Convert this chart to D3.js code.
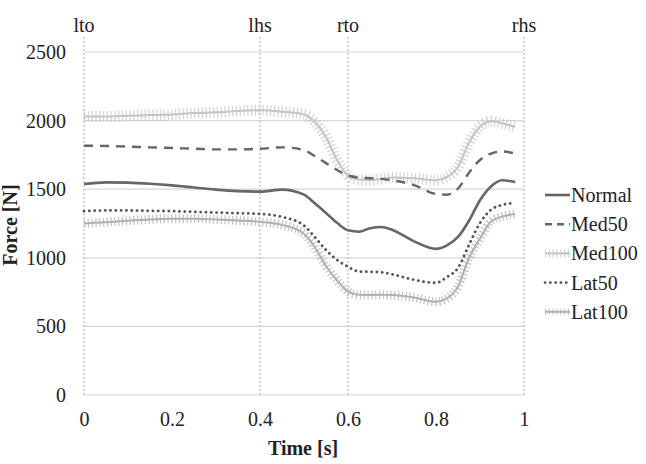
<!DOCTYPE html>
<html>
<head>
<meta charset="utf-8">
<script src="https://cdn.jsdelivr.net/npm/d3@7"></script>
<style>
    body { margin: 0; background: #fff; }
</style>
</head>
<body>
<div id="chart"></div>
<script>
var time = [0, 0.05, 0.1, 0.15, 0.2, 0.25, 0.3, 0.35, 0.4, 0.45, 0.5, 0.525, 0.55, 0.575, 0.6, 0.625, 0.65, 0.675, 0.7, 0.75, 0.8, 0.825, 0.85, 0.875, 0.9, 0.925, 0.95, 0.98];

var normal = [1538, 1550, 1548, 1540, 1528, 1512, 1497, 1486, 1482, 1497, 1460, 1395, 1327, 1255, 1200, 1190, 1215, 1225, 1205, 1120, 1065, 1090, 1152, 1270, 1420, 1520, 1565, 1553];
var med50 = [1817, 1815, 1810, 1805, 1800, 1795, 1790, 1790, 1795, 1805, 1785, 1740, 1690, 1640, 1600, 1585, 1580, 1575, 1565, 1530, 1465, 1460, 1505, 1620, 1713, 1760, 1775, 1760];
var med100 = [2030, 2030, 2035, 2040, 2045, 2055, 2060, 2070, 2075, 2065, 2045, 1990, 1881, 1713, 1600, 1570, 1567, 1575, 1585, 1580, 1565, 1590, 1662, 1840, 1955, 1995, 1980, 1954];
var lat50 = [1340, 1345, 1345, 1342, 1340, 1335, 1330, 1325, 1320, 1298, 1235, 1150, 1057, 985, 935, 900, 898, 895, 880, 840, 818, 860, 926, 1095, 1254, 1350, 1385, 1400];
var lat100 = [1250, 1260, 1270, 1280, 1285, 1285, 1280, 1272, 1262, 1240, 1175, 1075, 940, 835, 755, 730, 728, 730, 728, 710, 680, 705, 790, 1000, 1140, 1265, 1300, 1320];

var seriesNames = ["Normal", "Med50", "Med100", "Lat50", "Lat100"];
var seriesValues = [normal, med50, med100, lat50, lat100];

var events = ["lto", "lhs", "rto", "rhs"];
var eventTimes = [0, 0.4, 0.6, 1];

var xTicks = [0, 0.2, 0.4, 0.6, 0.8, 1];
var yTicks = [0, 500, 1000, 1500, 2000, 2500];

var width = 646, height = 464;
var serif = "Liberation Serif";

var x = d3.scaleLinear().domain([0, 1]).range([84, 524]);
var y = d3.scaleLinear().domain([0, 2500]).range([395, 52]);

var svg = d3.select("#chart").append("svg")
    .attr("width", width)
    .attr("height", height)
    .style("font-family", serif);

// gridlines
svg.append("g")
    .selectAll("line")
    .data(yTicks)
    .enter().append("line")
    .attr("x1", x(0))
    .attr("x2", x(1))
    .attr("y1", function(d) { return y(d); })
    .attr("y2", function(d) { return y(d); })
    .attr("stroke", "#d6d6d6")
    .attr("stroke-width", 1.2);

// y axis labels
var yAxis = svg.append("g")
    .attr("transform", "translate(" + (x(0) - 18) + ",0)")
    .call(d3.axisLeft(y).tickValues(yTicks).tickSize(0).tickPadding(0).tickFormat(d3.format("d")));
yAxis.attr("font-family", null).attr("font-size", null);
yAxis.select(".domain").remove();
yAxis.selectAll("text")
    .attr("fill", "#222")
    .style("font-size", "20px")
    .style("font-family", serif);

// x axis labels
var xAxis = svg.append("g")
    .attr("transform", "translate(0," + (y(0) + 17) + ")")
    .call(d3.axisBottom(x).tickValues(xTicks).tickSize(0).tickPadding(0).tickFormat(d3.format("")));
xAxis.attr("font-family", null).attr("font-size", null);
xAxis.select(".domain").remove();
xAxis.selectAll("text")
    .attr("fill", "#222")
    .style("font-size", "20px")
    .style("font-family", serif);

// event lines
var ev = svg.append("g")
    .selectAll("g")
    .data(events)
    .enter().append("g");

ev.append("line")
    .attr("x1", function(d, i) { return x(eventTimes[i]); })
    .attr("x2", function(d, i) { return x(eventTimes[i]); })
    .attr("y1", 37)
    .attr("y2", y(0))
    .attr("stroke", "#b8b8b8")
    .attr("stroke-width", 1.2)
    .attr("stroke-dasharray", "2,2");

ev.append("text")
    .attr("x", function(d, i) { return x(eventTimes[i]); })
    .attr("y", 32)
    .attr("text-anchor", "middle")
    .attr("fill", "#222")
    .style("font-size", "20px")
    .style("font-family", serif)
    .text(function(d) { return d; });

// series
var line = d3.line()
    .x(function(d) { return x(d[0]); })
    .y(function(d) { return y(d[1]); })
    .curve(d3.curveMonotoneX);

var styles = [
    { color: "#666", width: 2.6, dash: null },
    { color: "#666", width: 2.4, dash: "9,7" },
    { color: "#c4c4c4", width: 2, dash: null, hatch: 11 },
    { color: "#555", width: 2.8, dash: "0.1,5.2", round: true },
    { color: "#b0b0b0", width: 2, dash: null, hatch: 9 }
];

// draw in order so light bands sit under dark lines
var drawOrder = [2, 4, 1, 3, 0];
var lines = svg.append("g");

drawOrder.forEach(function(k)
{
    var pts = time.map(function(t, i) { return [t, seriesValues[k][i]]; });
    var s = styles[k];
    if (s.hatch) {
        lines.append("path")
            .attr("d", line(pts))
            .attr("fill", "none")
            .attr("stroke", s.color)
            .attr("stroke-width", s.hatch)
            .attr("stroke-opacity", 0.75)
            .attr("stroke-dasharray", "1.2,2.6");
    }
    var p = lines.append("path")
        .attr("d", line(pts))
        .attr("fill", "none")
        .attr("stroke", s.color)
        .attr("stroke-width", s.width);
    if (s.dash) p.attr("stroke-dasharray", s.dash);
    if (s.round) p.attr("stroke-linecap", "round");
});

// legend
var legend = svg.append("g")
    .selectAll(".legend")
    .data(seriesNames)
    .enter().append("g")
    .attr("class", "legend")
    .attr("transform", function(d, i)
    {
        return "translate(545," + (195 + i * 29.2) + ")";
    });

legend.each(function(d, i)
{
    var g = d3.select(this);
    var s = styles[i];
    if (s.hatch) {
        g.append("line")
            .attr("x1", 0).attr("x2", 25).attr("y1", 0).attr("y2", 0)
            .attr("stroke", s.color)
            .attr("stroke-width", s.hatch - 3)
            .attr("stroke-opacity", 0.75)
            .attr("stroke-dasharray", "1.2,2.6");
    }
    var l = g.append("line")
        .attr("x1", 0).attr("x2", 25).attr("y1", 0).attr("y2", 0)
        .attr("stroke", s.color)
        .attr("stroke-width", s.width);
    if (s.dash) l.attr("stroke-dasharray", i == 1 ? "7,5" : s.dash);
    if (s.round) l.attr("stroke-linecap", "round");
});

legend.append("text")
    .attr("x", 26)
    .attr("y", 0)
    .attr("dy", "0.35em")
    .attr("fill", "#222")
    .style("font-size", "20px")
    .style("font-family", serif)
    .text(function(d) { return d; });

// axis titles
svg.append("text")
    .attr("x", 303)
    .attr("y", 455)
    .attr("text-anchor", "middle")
    .attr("fill", "#222")
    .style("font-size", "20px")
    .style("font-family", serif)
    .style("font-weight", "bold")
    .text("Time [s]");

svg.append("text")
    .attr("transform", "translate(17,225) rotate(-90)")
    .attr("text-anchor", "middle")
    .attr("fill", "#222")
    .style("font-size", "20px")
    .style("font-family", serif)
    .style("font-weight", "bold")
    .text("Force [N]");
</script>
</body>
</html>
